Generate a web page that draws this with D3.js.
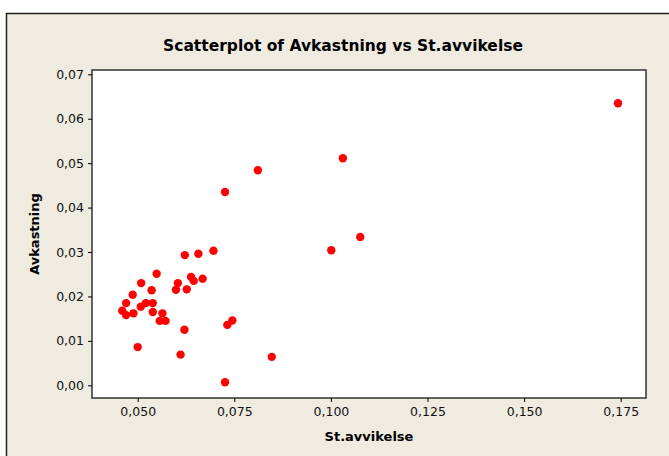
<!DOCTYPE html>
<html>
<head>
    <title>Scatterplot of Avkastning vs St.avvikelse</title>
    <script src="https://d3js.org/d3.v7.min.js"></script>
    <style>
        body {
            margin: 0;
            background: #ffffff;
            font-family: "DejaVu Sans", Verdana, sans-serif;
        }
        .title {
            font-size: 15.5px;
            font-weight: bold;
        }
        .axis-label {
            font-size: 13px;
            font-weight: bold;
        }
        .tick text {
            font-size: 12.5px;
            font-family: "DejaVu Sans", Verdana, sans-serif;
        }
    </style>
</head>
<body>
    <div id="chart"></div>

    <script>
        // St.avvikelse (x) and Avkastning (y)
        const stAvvikelse = [
            0.1743, 0.1031, 0.0811, 0.0726, 0.1076, 0.1001, 0.0696, 0.0657, 0.0622,
            0.0549, 0.0509, 0.0604, 0.0638, 0.0645, 0.0668, 0.0599, 0.0627, 0.0536,
            0.0487, 0.0470, 0.0508, 0.0521, 0.0539, 0.0460, 0.0470, 0.0489, 0.0539,
            0.0564, 0.0557, 0.0572, 0.0621, 0.0732, 0.0745, 0.0500, 0.0611, 0.0847,
            0.0726
        ];
        const avkastning = [
            0.0635, 0.0511, 0.0484, 0.0435, 0.0334, 0.0304, 0.0303, 0.0296, 0.0293,
            0.0251, 0.0230, 0.0230, 0.0244, 0.0235, 0.0240, 0.0215, 0.0216, 0.0214,
            0.0204, 0.0185, 0.0177, 0.0185, 0.0185, 0.0168, 0.0158, 0.0162, 0.0165,
            0.0162, 0.0145, 0.0145, 0.0125, 0.0136, 0.0146, 0.0086, 0.0069, 0.0064,
            0.0007
        ];
        const xTicks = [0.050, 0.075, 0.100, 0.125, 0.150, 0.175];
        const yTicks = [0.00, 0.01, 0.02, 0.03, 0.04, 0.05, 0.06, 0.07];

        const W = 669, H = 456;
        const box = { left: 92, right: 646, top: 70, bottom: 398 };

        const svg = d3.select("#chart")
                      .append("svg")
                      .attr("width", W)
                      .attr("height", H);

        // beige panel with frame
        svg.append("rect")
           .attr("x", 6.5).attr("y", 13.5)
           .attr("width", W + 10).attr("height", H + 10)
           .attr("fill", "#efebe1")
           .attr("stroke", "#222")
           .attr("stroke-width", 1.5);

        const x = d3.scaleLinear()
                    .domain([0.05, 0.175])
                    .range([137.7, 620.7]);
        const y = d3.scaleLinear()
                    .domain([0, 0.07])
                    .range([385.3, 74.3]);

        // plot area
        svg.append("rect")
           .attr("x", box.left).attr("y", box.top)
           .attr("width", box.right - box.left)
           .attr("height", box.bottom - box.top)
           .attr("fill", "#ffffff")
           .attr("stroke", "#333")
           .attr("stroke-width", 1.5);

        svg.append("g")
           .attr("transform", `translate(0,${box.bottom})`)
           .call(d3.axisBottom(x).tickValues(xTicks).tickSize(4).tickSizeOuter(0)
                   .tickFormat(d => d3.format(".3f")(d).replace(".", ",")))
           .call(g => g.select(".domain").remove())
           .call(g => g.selectAll(".tick text").attr("dy", "0.9em").attr("fill", "#111"));

        svg.append("g")
           .attr("transform", `translate(${box.left},0)`)
           .call(d3.axisLeft(y).tickValues(yTicks).tickSize(4).tickSizeOuter(0)
                   .tickFormat(d => d3.format(".2f")(d).replace(".", ",")))
           .call(g => g.select(".domain").remove())
           .call(g => g.selectAll(".tick text").attr("x", -8).attr("fill", "#111"));

        const pts = stAvvikelse.map((v, i) => ({ sd: v, ret: avkastning[i] }));

        svg.append("g")
           .selectAll("circle")
           .data(pts)
           .enter()
           .append("circle")
           .attr("cx", d => x(d.sd))
           .attr("cy", d => y(d.ret))
           .attr("r", 4.2)
           .attr("fill", "#ff0000");

        // title sits centred on the whole panel, not the plot box
        svg.append("text")
           .attr("class", "title")
           .attr("x", 343)
           .attr("y", 51)
           .attr("text-anchor", "middle")
           .text("Scatterplot of Avkastning vs St.avvikelse");

        svg.append("text")
           .attr("class", "axis-label")
           .attr("x", (box.left + box.right) / 2)
           .attr("y", 441)
           .attr("text-anchor", "middle")
           .text("St.avvikelse");

        svg.append("text")
           .attr("class", "axis-label")
           .attr("transform", `translate(39,${(box.top + box.bottom) / 2}) rotate(-90)`)
           .attr("text-anchor", "middle")
           .text("Avkastning");
    </script>
</body>
</html>
